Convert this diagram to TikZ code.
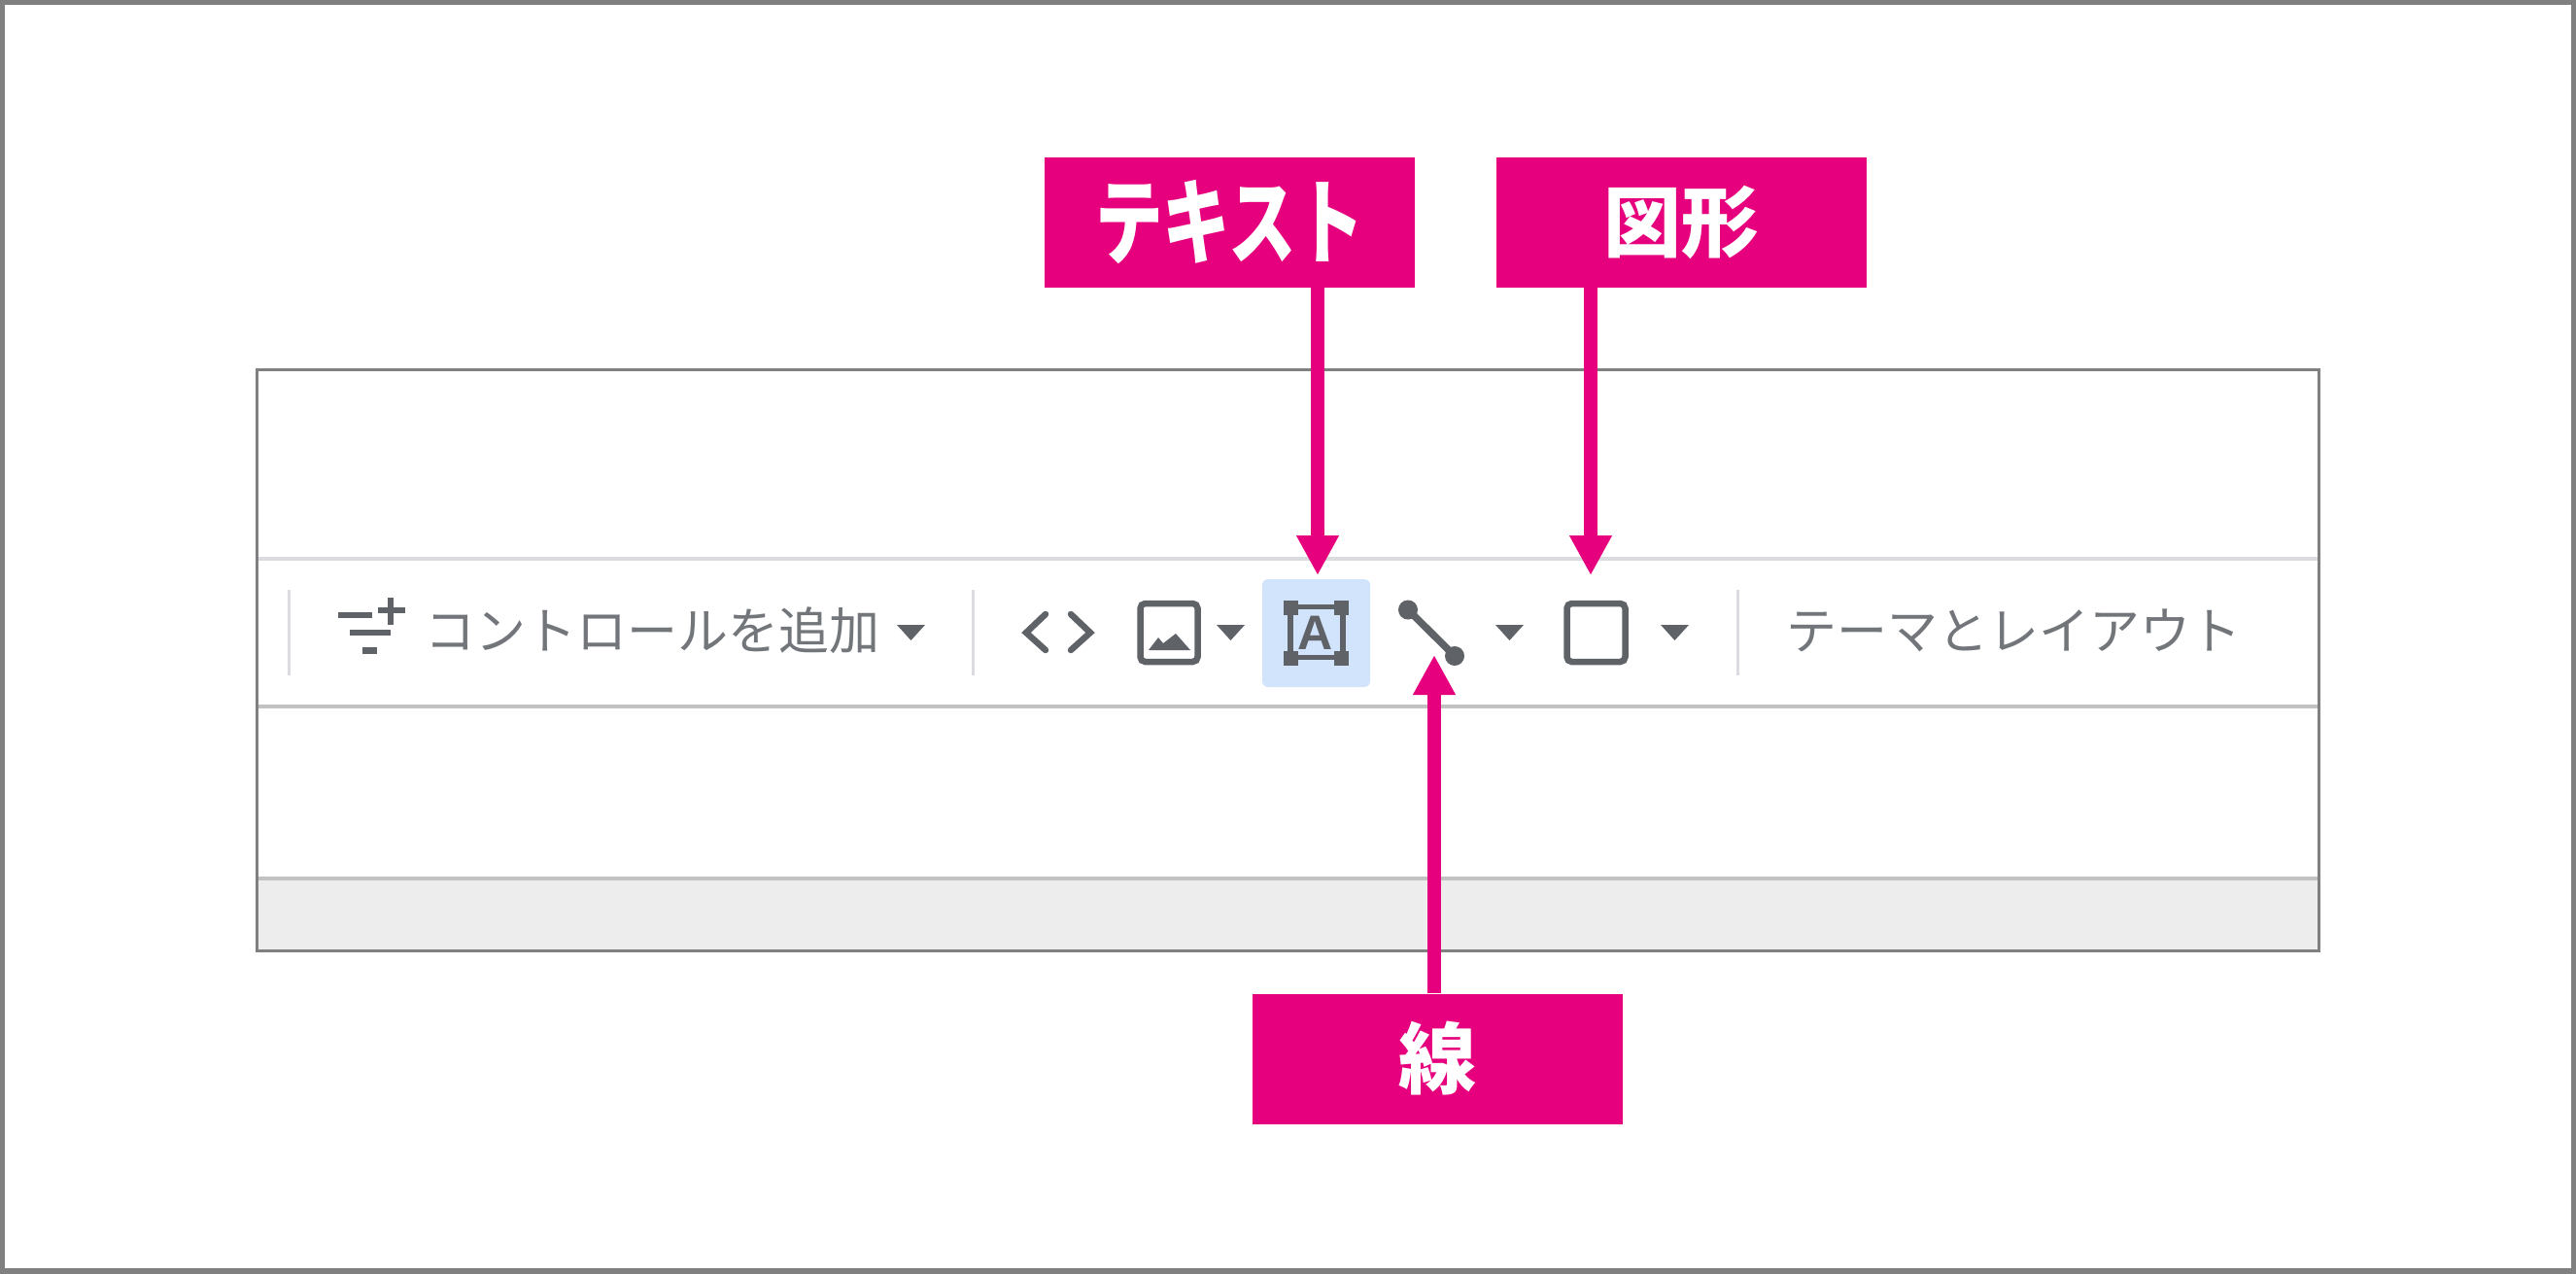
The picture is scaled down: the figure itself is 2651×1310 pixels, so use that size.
\documentclass[tikz,border=0pt]{standalone}
\usepackage{fontspec}
\usepackage{graphicx}
\newfontfamily\cjk{Noto Sans CJK JP}
\setsansfont{Liberation Sans}
\usetikzlibrary{arrows.meta}
\definecolor{pinkmark}{HTML}{E6007E}
\definecolor{icongray}{HTML}{5F6368}
\definecolor{rulegray}{HTML}{808080}
\definecolor{sepgray}{HTML}{DADCE0}
\definecolor{hilite}{HTML}{D2E3FC}
\begin{document}
\begin{tikzpicture}[x=1pt,y=-1pt,
    label node/.style={fill=pinkmark,text=white,inner sep=0pt,minimum width=381pt,minimum height=134pt,font=\cjk\bfseries\fontsize{80}{96}\selectfont},
    tool text/.style={inner sep=0pt,text=icongray!88,font=\cjk\fontsize{52}{62}\selectfont},
    icon line/.style={draw=icongray,line width=6.5pt},
    pointer/.style={draw=pinkmark,line width=14pt,-{Triangle[length=41pt,width=41pt]}}]
    \useasboundingbox (0,0) rectangle (2651,1310);
    \fill[white] (0,0) rectangle (2651,1310);
    \fill[black!7] (264,905) rectangle (2386,978);
    \draw[sepgray,line width=3.5pt] (264,575) -- (2386,575);
    \draw[black!24,line width=3.5pt] (264,727) -- (2386,727);
    \draw[black!24,line width=3.5pt] (264,904) -- (2386,904);
    \draw[rulegray,line width=3pt] (264,380) rectangle (2386,978);
    \draw[rulegray,line width=9.5pt] (0,0) rectangle (2651,1310);
    \foreach \x in {297,1001,1788}
        \draw[sepgray,line width=3pt] (\x,607) -- (\x,695);
    \foreach \x in {923,1252,1539,1709}
        \fill[icongray] (\x,643) -- +(29,0) -- +(14.5,16) -- cycle;
    \draw[icon line] (348,633) -- (383,633);
    \draw[icon line] (360,651) -- (402,651);
    \draw[icon line,line width=7pt] (373,669) -- (388,669);
    \draw[icon line] (389,628) -- (417,628);
    \draw[icon line] (402,615) -- (402,643);
    \node[tool text,anchor=west] (control) at (437,649) {コントロールを追加};
    \draw[icon line,line cap=round] (1076,632) -- (1056,651) -- (1076,669);
    \draw[icon line,line cap=round] (1102,632) -- (1122,651) -- (1102,669);
    \draw[icon line,rounded corners=5pt] (1173.5,621) rectangle (1232.5,681);
    \fill[icongray] (1182,669) -- (1192,656) -- (1197,662) -- (1210,652) -- (1225,669) -- cycle;
    \fill[hilite,rounded corners=6pt] (1299,596) rectangle (1410,707);
    \draw[icon line,line width=5.5pt] (1328,624.5) rectangle (1382,676.5);
    \foreach \x in {1321,1373} \foreach \y in {618,670}
        \fill[icongray] (\x,\y) rectangle +(15,15);
    \node[inner sep=0pt,text=icongray,font=\sffamily\bfseries\fontsize{50}{60}\selectfont] (letter) at (1354,651) {A};
    \draw[icon line,line width=7.5pt] (1449,627.5) -- (1497,675);
    \fill[icongray] (1449,627.5) circle [radius=10];
    \fill[icongray] (1497,675) circle [radius=10];
    \draw[icon line,rounded corners=5pt] (1612.5,621) rectangle (1672.5,681);
    \node[tool text,anchor=west] (theme) at (1838,649) {テーマとレイアウト};
    \node[label node] (textlabel) at (1265.5,229) {\raisebox{9pt}{\scalebox{.87}[1.2]{テキスト}}};
    \node[label node] (shapelabel) at (1730,229) {図形};
    \node[label node] (linelabel) at (1479,1089.5) {線};
    \coordinate (texttip) at (1356,592);
    \coordinate (shapetip) at (1637,592);
    \coordinate (linetip) at (1476,674);
    \draw[pointer] (texttip |- textlabel.south) -- (texttip);
    \draw[pointer] (shapetip |- shapelabel.south) -- (shapetip);
    \draw[pointer] (linetip |- linelabel.north) -- (linetip);
\end{tikzpicture}
\end{document}
